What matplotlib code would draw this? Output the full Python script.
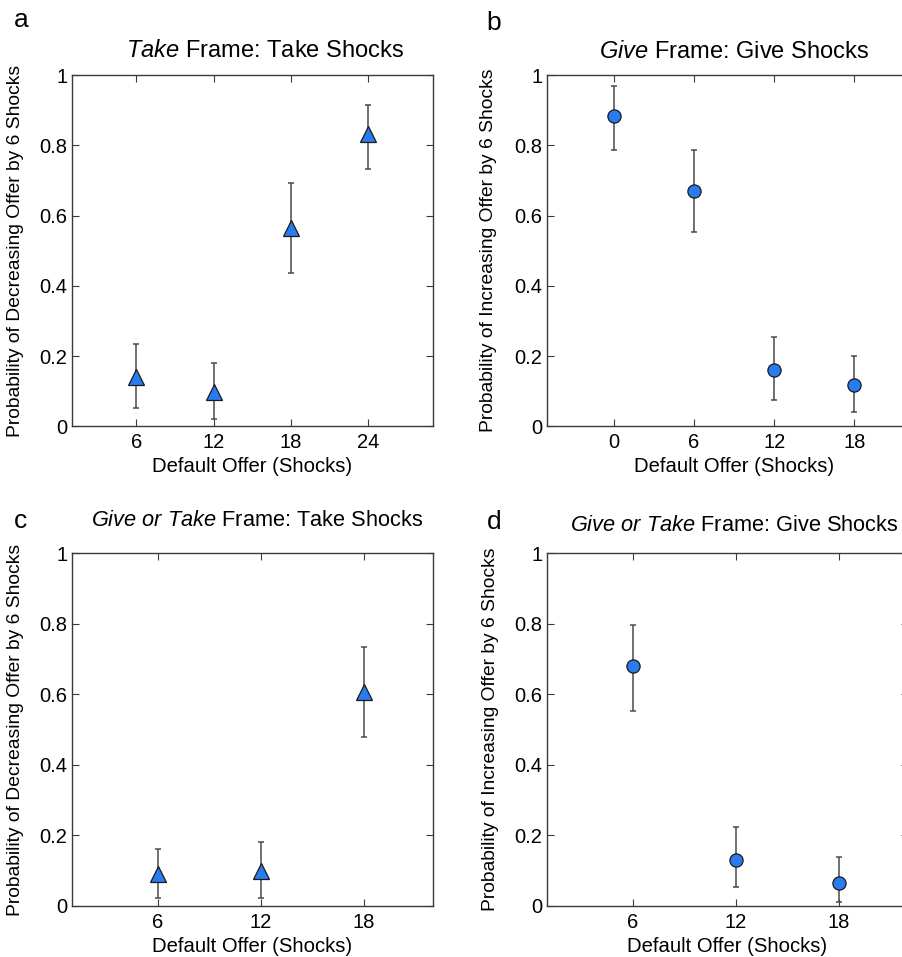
import matplotlib
matplotlib.use("Agg")
import matplotlib.pyplot as plt
import numpy as np

plt.rcParams.update({
    'font.family': 'Liberation Sans',
    'mathtext.fontset': 'custom',
    'mathtext.rm': 'Liberation Sans',
    'mathtext.it': 'Liberation Sans:italic',
})

# panel a: Take frame, take shocks
a_x = [6, 12, 18, 24]
a_y = [0.14, 0.097, 0.565, 0.833]
a_lo = [0.053, 0.021, 0.435, 0.733]
a_hi = [0.234, 0.181, 0.692, 0.915]

# panel b: Give frame, give shocks
b_x = [0, 6, 12, 18]
b_y = [0.882, 0.670, 0.159, 0.117]
b_lo = [0.787, 0.553, 0.074, 0.042]
b_hi = [0.968, 0.787, 0.255, 0.201]

# panel c: Give or Take frame, take shocks
c_x = [6, 12, 18]
c_y = [0.089, 0.098, 0.607]
c_lo = [0.022, 0.022, 0.479]
c_hi = [0.160, 0.182, 0.733]

# panel d: Give or Take frame, give shocks
d_x = [6, 12, 18]
d_y = [0.680, 0.129, 0.064]
d_lo = [0.553, 0.054, 0.011]
d_hi = [0.797, 0.224, 0.139]

W, H = 903, 957
blue = '#2b7bf0'
dark = '#3a3a3a'

fig = plt.figure(figsize=(W / 100, H / 100), dpi=100)


def make_ax(left, right, top, bottom):
    return fig.add_axes([left / W, 1 - bottom / H, (right - left) / W, (bottom - top) / H])


def panel(ax, x, y, lo, hi, marker, ms, xlim, ylabel, title, tx, ty_px, tsize):
    y = np.array(y)
    err = [y - np.array(lo), np.array(hi) - y]
    ax.errorbar(x, y, yerr=err, fmt='none', ecolor='#4a4a4a', elinewidth=1.1,
                capsize=2, capthick=1.1, zorder=2)
    ax.plot(x, y, linestyle='none', marker=marker, ms=ms, mfc=blue,
            mec='#1a1a1a', mew=0.9, zorder=3)
    ax.set_xlim(*xlim)
    ax.set_ylim(0, 1)
    ax.set_xticks(x)
    ax.set_yticks([0, 0.2, 0.4, 0.6, 0.8, 1])
    ax.set_yticklabels(['0', '0.2', '0.4', '0.6', '0.8', '1'])
    ax.tick_params(direction='in', top=True, right=True, length=5,
                   width=0.8, color=dark, labelsize=14.5)
    ax.tick_params(axis='x', pad=5)
    ax.tick_params(axis='y', pad=3)
    for s in ax.spines.values():
        s.set_color(dark)
        s.set_linewidth(1.0)
    ax.set_xlabel('Default Offer (Shocks)', fontsize=14.6)
    ax.xaxis.set_label_coords(0.5, -0.088)
    ax.set_ylabel(ylabel, fontsize=13.9)
    ax.yaxis.set_label_coords(-0.132, 0.5)
    h = ax.get_position().height * H
    ax.text(tx, 1 + ty_px / h, title, transform=ax.transAxes, ha='center',
            va='baseline', fontsize=tsize)


dec = 'Probability of Decreasing Offer by 6 Shocks'
inc = 'Probability of Increasing Offer by 6 Shocks'

ax_a = make_ax(71.7, 432.7, 75, 426.3)
panel(ax_a, a_x, a_y, a_lo, a_hi, '^', 11, (1, 29), dec,
      r'$\mathit{Take}$ Frame: Take Shocks', 0.535, 18, 17)

ax_b = make_ax(546.7, 921.3, 75, 426.3)
panel(ax_b, b_x, b_y, b_lo, b_hi, 'o', 9.5, (-5, 23), inc,
      r'$\mathit{Give}$ Frame: Give Shocks', 0.5, 17, 17)

ax_c = make_ax(71.7, 432.7, 553.3, 905.7)
panel(ax_c, c_x, c_y, c_lo, c_hi, '^', 11, (1, 22), dec,
      r'$\mathit{Give\ or\ Take}$ Frame: Take Shocks', 0.515, 27, 15.7)

ax_d = make_ax(546.7, 908, 553.3, 905.7)
panel(ax_d, d_x, d_y, d_lo, d_hi, 'o', 9.5, (1, 22), inc,
      r'$\mathit{Give\ or\ Take}$ Frame: Give Shocks', 0.518, 22.6, 15.7)

for lab, px, py in [('a', 14, 27), ('b', 486, 30), ('c', 14, 528), ('d', 487, 529)]:
    fig.text(px / W, 1 - py / H, lab, fontsize=19, va='baseline', ha='left')

fig.savefig('out.png', dpi=100)
